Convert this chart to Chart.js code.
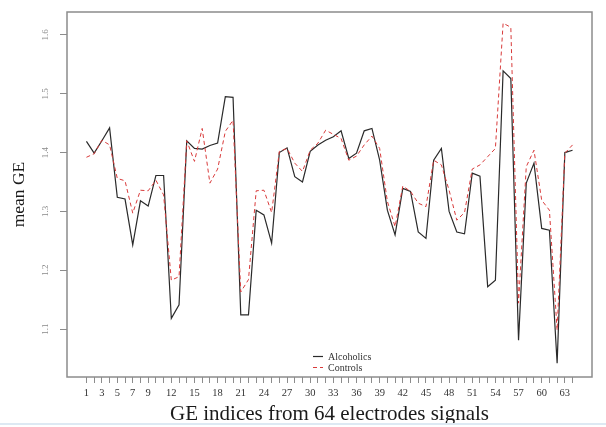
<!DOCTYPE html>
<html><head><meta charset="utf-8">
<script src="https://cdn.jsdelivr.net/npm/chart.js@4/dist/chart.umd.min.js"></script>
<style>
html,body{margin:0;padding:0;background:#fff;}
#wrap{position:relative;width:606px;height:427px;overflow:hidden;}
#bar{position:absolute;left:0;top:423px;width:606px;height:2px;background:#dde9f3;}
</style></head><body>
<div id="wrap"><canvas id="c" width="606" height="427"></canvas><div id="bar"></div></div>
<script>
const indices = [1,2,3,4,5,6,7,8,9,10,11,12,13,14,15,16,17,18,19,20,21,22,23,24,25,26,27,28,29,30,31,32,
  33,34,35,36,37,38,39,40,41,42,43,44,45,46,47,48,49,50,51,52,53,54,55,56,57,58,59,60,61,62,63,64];
const xTickLabels = [1,3,5,7,9,12,15,18,21,24,27,30,33,36,39,42,45,48,51,54,57,60,63];
const yTickValues = [1.1,1.2,1.3,1.4,1.5,1.6];
const seriesNames = ['Alcoholics','Controls'];
const alcoholics = [1.419,1.399,1.420,1.442,1.324,1.321,1.243,1.318,1.309,1.361,
  1.361,1.118,1.141,1.420,1.407,1.406,1.412,1.416,1.495,1.494,
  1.124,1.124,1.302,1.294,1.246,1.400,1.408,1.359,1.350,1.402,
  1.413,1.421,1.427,1.437,1.390,1.399,1.437,1.441,1.387,1.302,
  1.260,1.339,1.334,1.265,1.254,1.387,1.407,1.300,1.265,1.262,
  1.365,1.360,1.172,1.183,1.539,1.526,1.081,1.348,1.382,1.271,
  1.268,1.042,1.400,1.404];
const controls = [1.392,1.398,1.421,1.413,1.356,1.352,1.297,1.336,1.335,1.353,
  1.328,1.183,1.189,1.420,1.385,1.441,1.348,1.372,1.436,1.455,
  1.163,1.184,1.335,1.336,1.298,1.402,1.407,1.382,1.368,1.404,
  1.416,1.438,1.431,1.424,1.387,1.394,1.413,1.428,1.407,1.317,
  1.274,1.343,1.334,1.314,1.308,1.387,1.379,1.336,1.285,1.298,
  1.372,1.379,1.393,1.407,1.620,1.613,1.144,1.376,1.404,1.319,
  1.302,1.098,1.399,1.413];

const SERIF = '"Liberation Serif", "DejaVu Serif", serif';
const FRAME = '#8c8c8c';

const framePlugin = {
  id: 'frame',
  afterDraw(chart) {
    const {ctx, chartArea: a} = chart;
    ctx.save();
    ctx.strokeStyle = FRAME;
    ctx.lineWidth = 1.5;
    ctx.strokeRect(a.left, a.top, a.right - a.left, a.bottom - a.top);
    // rotated y tick labels (R style)
    const ys = chart.scales.y;
    ctx.fillStyle = '#8a8a8a';
    ctx.font = '9px ' + SERIF;
    ctx.textAlign = 'center';
    ctx.textBaseline = 'middle';
    yTickValues.forEach(v => {
      const py = ys.getPixelForValue(v);
      ctx.save();
      ctx.translate(46, py);
      ctx.rotate(-Math.PI / 2);
      ctx.fillText(v.toFixed(1), 0, 0);
      ctx.restore();
    });
    // legend inside plot
    const ds = chart.data.datasets;
    const rows = [356.5, 367.5];
    ctx.font = '10px ' + SERIF;
    ctx.textAlign = 'left';
    ds.forEach((d, i) => {
      const y = rows[i];
      ctx.save();
      ctx.strokeStyle = d.borderColor;
      ctx.lineWidth = d.borderWidth;
      ctx.setLineDash(d.borderDash || []);
      ctx.beginPath();
      ctx.moveTo(313, y);
      ctx.lineTo(323, y);
      ctx.stroke();
      ctx.restore();
      ctx.fillStyle = '#333';
      ctx.fillText(d.label, 328, y + 0.5);
    });
    ctx.restore();
  }
};

const xMin = 1 - 0.04 * 63, xMax = 64 + 0.04 * 63;

new Chart(document.getElementById('c'), {
  type: 'line',
  data: {
    datasets: [
      {
        label: seriesNames[0],
        data: indices.map((x, i) => ({x, y: alcoholics[i]})),
        borderColor: '#2a2a2a',
        borderWidth: 1.2,
        pointRadius: 0,
        tension: 0,
        fill: false,
        order: 2
      },
      {
        label: seriesNames[1],
        data: indices.map((x, i) => ({x, y: controls[i]})),
        borderColor: '#d83a3a',
        borderWidth: 1,
        borderDash: [4, 3],
        pointRadius: 0,
        tension: 0,
        fill: false,
        order: 1
      }
    ]
  },
  options: {
    responsive: false,
    animation: false,
    layout: {padding: {top: 12, right: 14, left: 0, bottom: 0}},
    plugins: {legend: {display: false}, tooltip: {enabled: false}},
    scales: {
      x: {
        type: 'linear',
        min: xMin,
        max: xMax,
        afterBuildTicks: s => { s.ticks = indices.map(v => ({value: v})); },
        afterFit: s => { s.height = 50; },
        border: {display: false},
        grid: {drawOnChartArea: false, drawTicks: true, tickLength: 6, color: FRAME, lineWidth: 1},
        ticks: {
          autoSkip: false, maxRotation: 0, minRotation: 0, padding: 4,
          color: '#333', font: {family: SERIF, size: 10.5},
          callback: v => xTickLabels.includes(v) ? String(v) : ''
        },
        title: {
          display: true, text: 'GE indices from 64 electrodes signals',
          color: '#1a1a1a', font: {family: SERIF, size: 21}, padding: {top: 0, bottom: 0}
        }
      },
      y: {
        type: 'linear',
        min: 1.0184,
        max: 1.639,
        afterBuildTicks: s => { s.ticks = yTickValues.map(v => ({value: v})); },
        afterFit: s => { s.width = 67; },
        border: {display: false},
        grid: {drawOnChartArea: false, drawTicks: true, tickLength: 7, color: FRAME, lineWidth: 1},
        ticks: {display: false},
        title: {
          display: true, text: 'mean GE',
          color: '#1a1a1a', font: {family: SERIF, size: 17.5}, padding: {top: 9, bottom: 0}
        }
      }
    }
  },
  plugins: [framePlugin]
});
</script>
</body></html>
